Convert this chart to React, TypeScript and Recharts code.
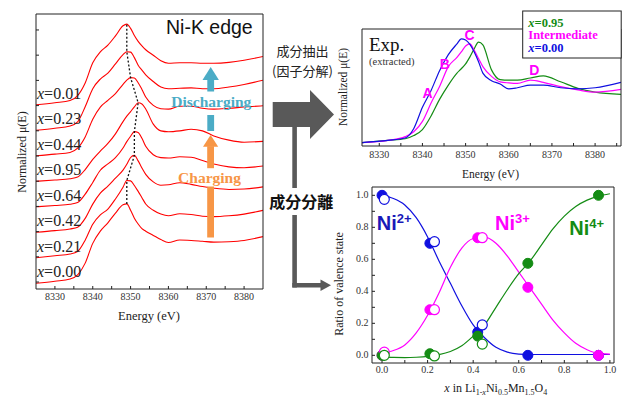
import React from "react";
import {
  LineChart,
  Line,
  ComposedChart,
  Scatter,
  XAxis,
  YAxis,
  ReferenceDot,
} from "recharts";

const serif = "'Liberation Serif','Times New Roman',serif";
const sans = "'Liberation Sans',Arial,sans-serif";
const cjk = "'Noto Sans CJK JP','Noto Sans CJK SC',sans-serif";

// ---- left panel: Ni K-edge spectra, stacked ----
const energyLeft = [8325, 8330, 8334, 8336, 8338, 8340, 8342, 8344, 8346, 8348, 8349, 8350, 8351, 8352, 8353, 8354, 8356, 8358, 8360, 8363, 8366, 8369, 8372, 8376, 8380, 8385];
const mu000 = [0.0, 0.05, 0.1, 0.2, 0.48, 0.95, 1.24, 1.44, 1.67, 1.87, 1.89, 1.74, 1.55, 1.41, 1.3, 1.24, 1.14, 1.04, 0.97, 1.03, 1.02, 1.0, 0.98, 0.99, 1.02, 1.11];
const mu021 = [0.0, 0.05, 0.09, 0.15, 0.42, 0.8, 1.02, 1.16, 1.4, 1.68, 1.84, 1.83, 1.72, 1.58, 1.43, 1.28, 1.13, 1.04, 1.0, 1.05, 1.03, 0.99, 0.98, 1.0, 1.04, 1.13];
const mu042 = [0.0, 0.04, 0.08, 0.12, 0.33, 0.67, 0.93, 1.1, 1.29, 1.48, 1.62, 1.78, 1.83, 1.7, 1.53, 1.38, 1.2, 1.12, 1.13, 1.18, 1.14, 1.09, 1.05, 1.02, 1.03, 1.08];
const mu064 = [0.0, 0.03, 0.06, 0.1, 0.3, 0.58, 0.87, 1.02, 1.17, 1.4, 1.55, 1.68, 1.79, 1.77, 1.63, 1.44, 1.24, 1.17, 1.16, 1.19, 1.18, 1.1, 1.02, 0.95, 0.93, 0.97];
const mu095 = [0.0, 0.03, 0.06, 0.1, 0.28, 0.52, 0.72, 0.9, 1.13, 1.42, 1.55, 1.66, 1.77, 1.87, 1.84, 1.72, 1.36, 1.2, 1.18, 1.2, 1.24, 1.2, 1.08, 0.98, 0.93, 0.95];
const mu044 = [0.0, 0.04, 0.08, 0.18, 0.45, 0.87, 1.16, 1.32, 1.48, 1.7, 1.8, 1.86, 1.85, 1.74, 1.58, 1.4, 1.2, 1.12, 1.11, 1.18, 1.18, 1.13, 1.11, 1.13, 1.16, 1.19];
const mu023 = [0.0, 0.05, 0.1, 0.2, 0.56, 0.99, 1.22, 1.36, 1.58, 1.8, 1.87, 1.86, 1.73, 1.55, 1.43, 1.32, 1.16, 1.03, 0.99, 1.0, 1.01, 0.99, 0.99, 1.03, 1.09, 1.19];
const mu001 = [0.0, 0.05, 0.1, 0.22, 0.52, 1.0, 1.26, 1.42, 1.64, 1.88, 1.92, 1.82, 1.65, 1.51, 1.4, 1.31, 1.18, 1.05, 0.99, 1.0, 1.0, 0.99, 0.99, 1.01, 1.06, 1.15];
const leftLabels = ["0.00", "0.21", "0.42", "0.64", "0.95", "0.44", "0.23", "0.01"];
const leftSpectra = [mu000, mu021, mu042, mu064, mu095, mu044, mu023, mu001];
const stackStep = 0.607;
const leftTicksX = [8330, 8335, 8340, 8345, 8350, 8355, 8360, 8365, 8370, 8375, 8380];
const leftTicksY = [0.03, 0.63, 1.23, 1.83, 2.43, 3.03, 3.63, 4.23, 4.83, 5.43, 6.03];

// ---- top right: extracted components ----
const energyExp = [8326, 8332, 8336, 8338, 8340, 8342, 8344, 8346, 8348, 8349, 8350, 8351, 8352, 8353, 8354, 8356, 8358, 8360, 8362, 8365, 8368, 8372, 8376, 8380, 8386];
const expX000 = [0.0, 0.04, 0.085, 0.26, 0.65, 0.96, 1.33, 1.62, 1.82, 1.91, 1.89, 1.81, 1.67, 1.49, 1.28, 1.14, 1.08, 0.99, 1.01, 1.06, 1.06, 1.01, 0.99, 1.01, 1.11];
const expMid = [0.0, 0.04, 0.11, 0.2, 0.39, 0.73, 1.04, 1.4, 1.57, 1.67, 1.78, 1.82, 1.7, 1.55, 1.4, 1.22, 1.12, 1.1, 1.09, 1.15, 1.11, 1.03, 0.97, 0.93, 0.98];
const expX095 = [0.0, 0.04, 0.07, 0.13, 0.24, 0.49, 0.8, 1.06, 1.28, 1.36, 1.45, 1.58, 1.73, 1.85, 1.8, 1.34, 1.16, 1.15, 1.15, 1.19, 1.23, 1.12, 1.0, 0.93, 0.89];
const expTicksX = [8330, 8335, 8340, 8345, 8350, 8355, 8360, 8365, 8370, 8375, 8380, 8385];
const peakLetters = ["A", "B", "C", "D"];
const peakLetterE = [8341.2, 8345.2, 8350.9, 8365.9];
const peakLetterMu = [0.91, 1.44, 1.99, 1.33];

// ---- bottom right: valence ratios ----
const fitX = [0, 0.05, 0.1, 0.15, 0.2, 0.25, 0.3, 0.35, 0.4, 0.45, 0.5, 0.55, 0.6, 0.65, 0.7, 0.75, 0.8, 0.85, 0.9, 0.95, 1.0];
const fitNi2 = [1.0, 0.98, 0.94, 0.86, 0.74, 0.59, 0.45, 0.31, 0.19, 0.11, 0.05, 0.02, 0.008, 0.005, 0.005, 0.005, 0.005, 0.005, 0.005, 0.005, 0.005];
const fitNi3 = [0.015, 0.03, 0.065, 0.14, 0.25, 0.39, 0.55, 0.67, 0.73, 0.74, 0.7, 0.62, 0.52, 0.42, 0.32, 0.22, 0.14, 0.075, 0.035, 0.012, 0.008];
const fitNi4 = [-0.01, -0.013, -0.014, -0.012, -0.007, 0.004, 0.024, 0.06, 0.12, 0.19, 0.3, 0.41, 0.51, 0.59, 0.69, 0.79, 0.87, 0.93, 0.97, 0.995, 1.01];
const chargeX = [0.0, 0.21, 0.42, 0.64, 0.95];
const dischargeX = [0.01, 0.23, 0.44];
const ni2Charge = [1.0, 0.7, 0.145, 0.0, 0.0];
const ni3Charge = [0.0, 0.285, 0.735, 0.425, 0.0];
const ni4Charge = [0.0, 0.01, 0.12, 0.575, 1.0];
const ni2Discharge = [0.975, 0.71, 0.19];
const ni3Discharge = [0.02, 0.285, 0.735];
const ni4Discharge = [0.0, -0.004, 0.07];
const ratioTicks = [0, 0.1, 0.2, 0.3, 0.4, 0.5, 0.6, 0.7, 0.8, 0.9, 1.0];
const ratioLabelTicks = [0, 0.2, 0.4, 0.6, 0.8, 1.0];
const ratioXMin = -0.044;
const ratioYMin = -0.048;
const ratioYMax = 1.052;

// ratio panel geometry (page px), used for its y tick labels
const ratioTop = 180;
const ratioMargin = { top: 6, right: 7, left: 31, bottom: 14 };
const ratioPlotTop = ratioTop + 7;
const ratioPlotH = 176;
const ratioPlotLeft = 372;

const BLUE = "#1010e0";
const MAGENTA = "#ff00ff";
const GREEN = "#148c14";

const tickFont = { fontSize: 10, fill: "#333", fontFamily: serif };
const axisStroke = { stroke: "#222" };
const ratioFmt = (v: number) => (Math.round(v * 10) % 2 === 0 ? v.toFixed(1) : "");

const LeftPanel = () => {
  const rows = energyLeft.map((e, i) => {
    const row: any = { e };
    leftSpectra.forEach((s, k) => {
      row["s" + k] = s[i] + k * stackStep;
    });
    return row;
  });
  const peaks = leftSpectra.map((s, k) => {
    let idx = 0;
    s.forEach((v, i) => {
      if (v > s[idx]) idx = i;
    });
    return { e: energyLeft[idx], p: s[idx] + k * stackStep };
  });

  return (
    <LineChart width={270} height={330} data={rows} margin={{ top: 13, right: 6, left: 35, bottom: 16 }}>
      <XAxis dataKey="e" type="number" domain={[8325, 8385]} ticks={leftTicksX} allowDataOverflow
        height={25} tickSize={-3} tickMargin={7} axisLine={axisStroke} tickLine={axisStroke}
        tick={tickFont} tickFormatter={(v) => (v % 10 === 0 ? String(v) : "")} />
      <XAxis xAxisId="top" orientation="top" type="number" domain={[8325, 8385]} ticks={leftTicksX}
        height={1} tickSize={-3} tick={false} axisLine={axisStroke} tickLine={axisStroke} />
      <YAxis type="number" domain={[-0.136, 6.41]} ticks={leftTicksY} width={1} tickSize={-3}
        tick={false} axisLine={axisStroke} tickLine={axisStroke} allowDataOverflow />
      <YAxis yAxisId="right" orientation="right" type="number" domain={[-0.136, 6.41]} ticks={leftTicksY}
        width={1} tickSize={-3} tick={false} axisLine={axisStroke} tickLine={axisStroke} />
      {leftTicksY.map((t) => (
        <ReferenceDot key={"t" + t} x={8325} y={t} r={0} ifOverflow="visible"
          shape={(p: any) => <line x1={p.cx} x2={p.cx + 3} y1={p.cy} y2={p.cy} stroke="#222" />} />
      ))}
      {leftSpectra.map((_, k) => (
        <Line key={k} dataKey={"s" + k} type="monotone" stroke="#ff0000" strokeWidth={1.1}
          dot={false} isAnimationActive={false} />
      ))}
      <Line data={peaks} dataKey="p" type="linear" stroke="#111" strokeWidth={1.3}
        strokeDasharray="2 2" dot={false} isAnimationActive={false} />
      {leftLabels.map((lab, k) => (
        <ReferenceDot key={lab} x={8325} y={k * stackStep + 0.14} r={0} ifOverflow="visible"
          shape={(p: any) => (
            <text x={p.cx + 1} y={p.cy} fontSize={16} fontFamily={serif} fill="#222">
              <tspan fontStyle="italic">x</tspan>={lab}
            </text>
          )} />
      ))}
    </LineChart>
  );
};

const ExpPanel = () => {
  const rows = energyExp.map((e, i) => ({ e, a: expX000[i], b: expMid[i], c: expX095[i] }));
  return (
    <LineChart width={282} height={190} data={rows} margin={{ top: 28, right: 0, left: 21, bottom: 20 }}>
      <XAxis dataKey="e" type="number" domain={[8326, 8386]} ticks={expTicksX} allowDataOverflow
        height={24} tickSize={-3} tickMargin={8} axisLine={axisStroke} tickLine={axisStroke}
        tick={tickFont} tickFormatter={(v) => (v % 10 === 0 ? String(v) : "")} />
      <XAxis xAxisId="top" orientation="top" type="number" domain={[8326, 8386]} ticks={expTicksX}
        height={1} tickSize={-3} tick={false} axisLine={axisStroke} tickLine={axisStroke} />
      <YAxis type="number" domain={[-0.063, 2.093]} ticks={[]} width={1} tick={false}
        axisLine={axisStroke} allowDataOverflow />
      <YAxis yAxisId="right" orientation="right" type="number" domain={[-0.063, 2.093]} ticks={[]}
        width={1} tick={false} axisLine={axisStroke} />
      <Line dataKey="c" type="monotone" stroke={GREEN} strokeWidth={1.2} dot={false} isAnimationActive={false} />
      <Line dataKey="b" type="monotone" stroke={MAGENTA} strokeWidth={1.2} dot={false} isAnimationActive={false} />
      <Line dataKey="a" type="monotone" stroke={BLUE} strokeWidth={1.2} dot={false} isAnimationActive={false} />
      {peakLetters.map((L, i) => (
        <ReferenceDot key={L} x={peakLetterE[i]} y={peakLetterMu[i]} r={0} ifOverflow="visible"
          shape={(p: any) => (
            <text x={p.cx} y={p.cy + 5} textAnchor="middle" fontSize={14} fontWeight={700}
              fontFamily={sans} fill={MAGENTA}>{L}</text>
          )} />
      ))}
    </LineChart>
  );
};

const dotShape = (color: string, open: boolean) => (p: any) => (
  <circle cx={p.cx} cy={p.cy} r={5} fill={open ? "#fff" : color} stroke={color}
    strokeWidth={open ? 1.2 : 1} />
);

const RatioPanel = () => {
  const rows = fitX.map((x, i) => ({ x, ni2: fitNi2[i], ni3: fitNi3[i], ni4: fitNi4[i] }));
  const pts = (xs: number[], ys: number[]) => xs.map((x, i) => ({ x, y: ys[i] }));
  return (
    <ComposedChart width={282} height={217} data={rows} margin={ratioMargin}>
      <XAxis dataKey="x" type="number" domain={[ratioXMin, 1.018]} ticks={ratioTicks} allowDataOverflow
        height={20} tickSize={-3} tickMargin={6} axisLine={axisStroke} tickLine={axisStroke}
        tick={tickFont} tickFormatter={ratioFmt} />
      <XAxis xAxisId="top" orientation="top" type="number" domain={[ratioXMin, 1.018]} ticks={ratioTicks}
        height={1} tickSize={-3} tick={false} axisLine={axisStroke} tickLine={axisStroke} />
      <YAxis type="number" domain={[ratioYMin, ratioYMax]} ticks={ratioTicks} width={1} allowDataOverflow
        tick={false} axisLine={axisStroke} tickLine={false} />
      <YAxis yAxisId="right" orientation="right" type="number" domain={[ratioYMin, ratioYMax]} ticks={ratioTicks}
        width={1} tickSize={-3} tick={false} axisLine={axisStroke} tickLine={axisStroke} />
      {ratioTicks.map((t) => (
        <ReferenceDot key={"yt" + t} x={ratioXMin} y={t} r={0} ifOverflow="visible"
          shape={(p: any) => <line x1={p.cx} x2={p.cx + 3} y1={p.cy} y2={p.cy} stroke="#222" />} />
      ))}
      <Line dataKey="ni2" type="monotone" stroke={BLUE} strokeWidth={1.2} dot={false} isAnimationActive={false} />
      <Line dataKey="ni3" type="monotone" stroke={MAGENTA} strokeWidth={1.2} dot={false} isAnimationActive={false} />
      <Line dataKey="ni4" type="monotone" stroke={GREEN} strokeWidth={1.2} dot={false} isAnimationActive={false} />
      <Scatter data={pts(chargeX, ni2Charge)} dataKey="y" shape={dotShape(BLUE, false)} isAnimationActive={false} />
      <Scatter data={pts(chargeX, ni3Charge)} dataKey="y" shape={dotShape(MAGENTA, false)} isAnimationActive={false} />
      <Scatter data={pts(chargeX, ni4Charge)} dataKey="y" shape={dotShape(GREEN, false)} isAnimationActive={false} />
      <Scatter data={pts(dischargeX, ni2Discharge)} dataKey="y" shape={dotShape(BLUE, true)} isAnimationActive={false} />
      <Scatter data={pts(dischargeX, ni3Discharge)} dataKey="y" shape={dotShape(MAGENTA, true)} isAnimationActive={false} />
      <Scatter data={pts(dischargeX, ni4Discharge)} dataKey="y" shape={dotShape(GREEN, true)} isAnimationActive={false} />
    </ComposedChart>
  );
};

const Overlay = () => (
  <svg width={622} height={397} style={{ position: "absolute", left: 0, top: 0, pointerEvents: "none" }}>
    {/* left panel annotations */}
    <text x={166} y={34} fontSize={19.5} fontFamily={sans} fill="#111">Ni-K edge</text>
    <text transform="translate(26,152) rotate(-90)" textAnchor="middle" fontSize={12} fontFamily={serif} fill="#222">
      Normalized μ(E)
    </text>
    <text x={149} y={320} textAnchor="middle" fontSize={12.5} fontFamily={serif} fill="#222">Energy (eV)</text>

    <polygon points="202.5,80 210.7,67 218.9,80" fill="#4BACC6" />
    <rect x={207.3} y={79.5} width={6.8} height={12} fill="#4BACC6" />
    <rect x={207.3} y={115} width={6.8} height={16} fill="#4BACC6" />
    <text x={211.3} y={107} textAnchor="middle" fontSize={15.5} fontWeight={700} fontFamily={serif} fill="#4BACC6">Discharging</text>

    <polygon points="203,146.7 210.6,135 218.2,146.7" fill="#F79646" />
    <rect x={207.2} y={146.2} width={6.8} height={22} fill="#F79646" />
    <rect x={207.2} y={186.5} width={6.8} height={51} fill="#F79646" />
    <text x={209.5} y={183} textAnchor="middle" fontSize={15.5} fontWeight={700} fontFamily={serif} fill="#F79646">Charging</text>

    {/* middle arrows */}
    <text x={302.5} y={56} textAnchor="middle" fontSize={13} fontFamily={cjk} fill="#222">成分抽出</text>
    <text x={302.5} y={75.5} textAnchor="middle" fontSize={13} fontFamily={cjk} fill="#222">(因子分解)</text>
    <polygon points="272.7,102 310,102 310,90 334,114.5 310,139 310,127 272.7,127" fill="#595959" />
    <rect x={292.3} y={126} width={4.6} height={62} fill="#595959" />
    <rect x={292.3} y={215} width={4.6} height={72.5} fill="#595959" />
    <rect x={292.3} y={283} width={29} height={4.5} fill="#595959" />
    <polygon points="320.5,279.5 331,285.25 320.5,291" fill="#595959" />
    <text x={301.3} y={207.5} textAnchor="middle" fontSize={16} fontWeight={700} fontFamily={cjk} fill="#111">成分分離</text>

    {/* top right annotations */}
    <text x={369} y={51} fontSize={19} fontFamily={serif} fill="#111">Exp.</text>
    <text x={369} y={64.5} fontSize={10.5} fontFamily={serif} fill="#333">(extracted)</text>
    <text transform="translate(347,87) rotate(-90)" textAnchor="middle" fontSize={11.5} fontFamily={serif} fill="#222">
      Normalized μ(E)
    </text>
    <text x={490.5} y={178} textAnchor="middle" fontSize={11.5} fontFamily={serif} fill="#222">Energy (eV)</text>
    <rect x={522.7} y={11} width={98.5} height={47} fill="#fff" stroke="#222" strokeWidth={1} />
    <text x={528.3} y={26.5} fontSize={12.5} fontWeight={700} fontFamily={serif} fill={GREEN}>
      <tspan fontStyle="italic">x</tspan>=0.95
    </text>
    <text x={528.3} y={39.3} fontSize={12.5} fontWeight={700} fontFamily={serif} fill={MAGENTA}>Intermediate</text>
    <text x={528.3} y={52} fontSize={12.5} fontWeight={700} fontFamily={serif} fill={BLUE}>
      <tspan fontStyle="italic">x</tspan>=0.00
    </text>

    {/* bottom right annotations */}
    <text transform="translate(343,284) rotate(-90)" textAnchor="middle" fontSize={12} fontFamily={serif} fill="#222">
      Ratio of valence state
    </text>
    <text x={495.8} y={392} textAnchor="middle" fontSize={12} fontFamily={serif} fill="#222">
      <tspan fontStyle="italic">x</tspan> in Li<tspan fontSize={8} dy={3}>1-<tspan fontStyle="italic">x</tspan></tspan>
      <tspan dy={-3}>Ni</tspan><tspan fontSize={8} dy={3}>0.5</tspan>
      <tspan dy={-3}>Mn</tspan><tspan fontSize={8} dy={3}>1.5</tspan>
      <tspan dy={-3}>O</tspan><tspan fontSize={8} dy={3}>4</tspan>
    </text>
    <text x={376.7} y={229.5} fontSize={20} fontWeight={700} fontFamily={sans} fill="#1818b8">
      Ni<tspan fontSize={13} dy={-7}>2+</tspan>
    </text>
    <text x={495} y={230} fontSize={20} fontWeight={700} fontFamily={sans} fill={MAGENTA}>
      Ni<tspan fontSize={13} dy={-7}>3+</tspan>
    </text>
    <text x={569.3} y={235} fontSize={20} fontWeight={700} fontFamily={sans} fill={GREEN}>
      Ni<tspan fontSize={13} dy={-7}>4+</tspan>
    </text>
  </svg>
);

const RatioYLabels = () => (
  <>
    {ratioLabelTicks.map((t) => (
      <div key={"yl" + t} style={{
        position: "absolute", zIndex: 20, left: ratioPlotLeft - 3.5 - 24, width: 24, textAlign: "right",
        top: ratioPlotTop + ((ratioYMax - t) / (ratioYMax - ratioYMin)) * ratioPlotH - 6,
        height: 12, lineHeight: "12px", fontSize: 10, fontFamily: serif, color: "#333",
      }}>
        {t.toFixed(1)}
      </div>
    ))}
  </>
);

export default function App() {
  return (
    <div style={{ position: "absolute", left: 0, top: 0, width: 622, height: 397, background: "#fff", overflow: "hidden", fontFamily: serif }}>
      <div style={{ position: "absolute", left: 0, top: 0 }}>
        <LeftPanel />
      </div>
      <div style={{ position: "absolute", left: 340, top: 0 }}>
        <ExpPanel />
      </div>
      <div style={{ position: "absolute", left: 340, top: ratioTop }}>
        <RatioPanel />
      </div>
      <Overlay />
      <RatioYLabels />
    </div>
  );
}
